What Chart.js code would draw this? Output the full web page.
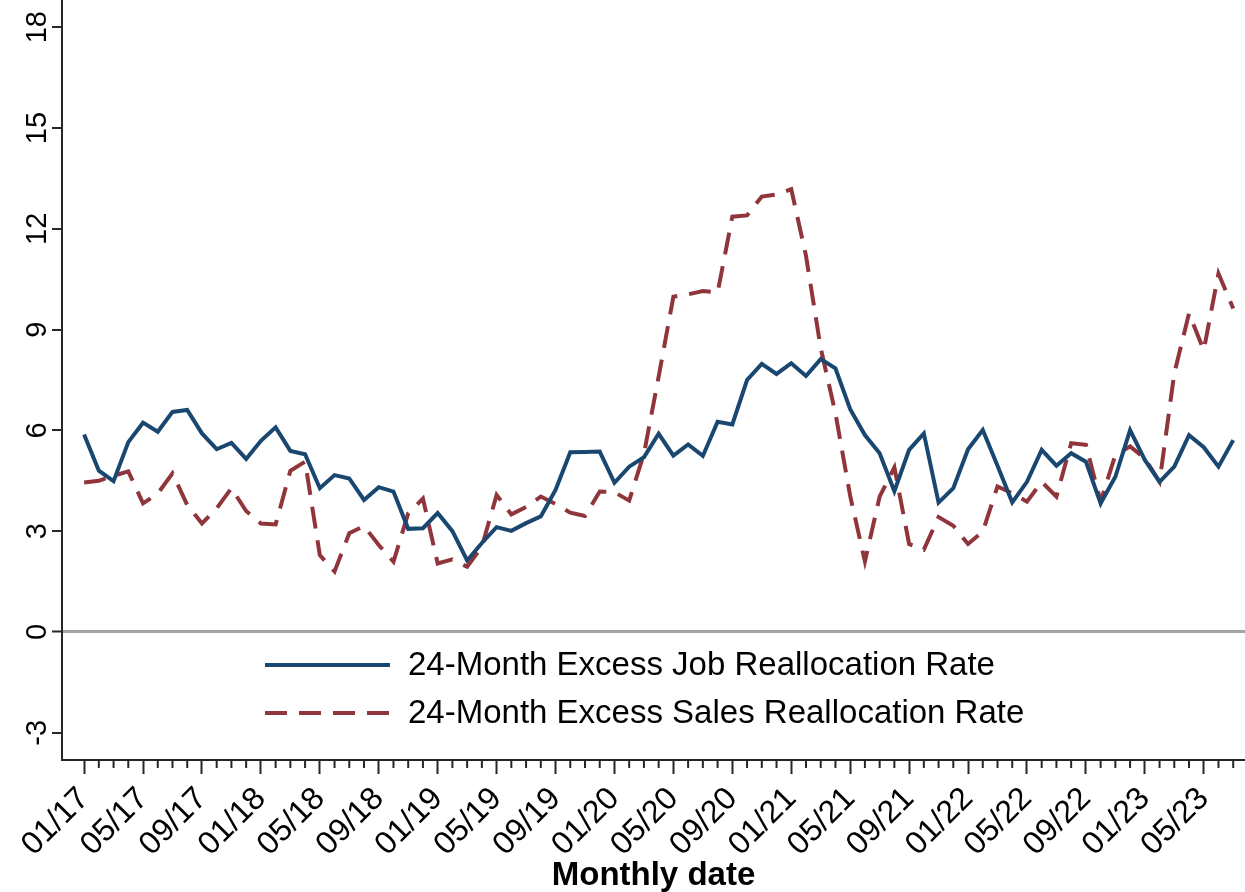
<!DOCTYPE html>
<html>
<head>
<meta charset="utf-8">
<script src="https://cdn.jsdelivr.net/npm/chart.js@4.4.0/dist/chart.umd.min.js"></script>
<style>
  html, body { margin: 0; padding: 0; background: #fff; }
  #wrap { width: 1245px; height: 892px; position: relative; }
</style>
</head>
<body>
<div id="wrap"><canvas id="chart"></canvas></div>
<script>
// x = months since 01/17, one point per month up to 07/23
const tickLabels = ['01/17', '05/17', '09/17', '01/18', '05/18', '09/18', '01/19', '05/19', '09/19', '01/20',
                    '05/20', '09/20', '01/21', '05/21', '09/21', '01/22', '05/22', '09/22', '01/23', '05/23'];
const tickMonths = [0, 4, 8, 12, 16, 20, 24, 28, 32, 36, 40, 44, 48, 52, 56, 60, 64, 68, 72, 76];
const yTicks = [-3, 0, 3, 6, 9, 12, 15, 18];

const jobRate = [
  5.88, 4.80, 4.49, 5.65, 6.23, 5.96, 6.55, 6.61, 5.91, 5.44, 5.63, 5.15,
  5.69, 6.09, 5.39, 5.29, 4.28, 4.67, 4.57, 3.93, 4.31, 4.18, 3.07, 3.09,
  3.54, 3.00, 2.13, 2.65, 3.12, 3.01, 3.24, 3.44, 4.23, 5.35, 5.36, 5.37,
  4.44, 4.92, 5.20, 5.90, 5.25, 5.58, 5.24, 6.26, 6.18, 7.50, 7.98, 7.68,
  8.00, 7.62, 8.12, 7.85, 6.63, 5.86, 5.32, 4.19, 5.42, 5.91, 3.85, 4.28,
  5.44, 6.01, 4.95, 3.86, 4.47, 5.42, 4.95, 5.32, 5.07, 3.83, 4.62, 6.01,
  5.12, 4.47, 4.92, 5.86, 5.50, 4.92, 5.71
];
const salesRate = [
  4.45, 4.50, 4.65, 4.78, 3.83, 4.12, 4.72, 3.78, 3.23, 3.68, 4.28, 3.60,
  3.23, 3.20, 4.80, 5.07, 2.29, 1.80, 2.94, 3.15, 2.59, 2.09, 3.53, 3.97,
  2.04, 2.16, 1.94, 2.54, 4.08, 3.50, 3.72, 4.03, 3.81, 3.55, 3.45, 4.18,
  4.16, 3.91, 5.30, 7.60, 9.98, 10.05, 10.15, 10.10, 12.36, 12.40, 12.96, 13.02,
  13.18, 11.20, 8.45, 6.51, 4.05, 2.10, 4.03, 4.90, 2.62, 2.45, 3.42, 3.16,
  2.62, 2.99, 4.33, 4.13, 3.88, 4.47, 4.03, 5.62, 5.57, 3.88, 5.27, 5.52,
  5.17, 4.47, 7.70, 9.48, 8.39, 10.67, 9.63
];

const FONT = 'Liberation Sans, Arial, sans-serif';
const AXIS = '#262626';

// short monthly ticks between the labelled ones
const minorTicks = {
  id: 'minorTicks',
  afterDraw(chart) {
    const sx = chart.scales.x;
    const ctx = chart.ctx;
    ctx.save();
    ctx.strokeStyle = AXIS;
    ctx.lineWidth = 2;
    for (let m = 0; m < jobRate.length; m++) {
      if (tickMonths.includes(m)) continue;
      const px = sx.getPixelForValue(m);
      ctx.beginPath();
      ctx.moveTo(px, sx.top);
      ctx.lineTo(px, sx.top + 8);
      ctx.stroke();
    }
    ctx.restore();
  }
};

// legend sits inside the plot, like the stata ring(0) legend
const insideLegend = {
  id: 'insideLegend',
  afterDatasetsDraw(chart) {
    const ctx = chart.ctx;
    ctx.save();
    chart.data.datasets.forEach(function(ds, i) {
      const y = 665 + i * 48;
      ctx.strokeStyle = ds.borderColor;
      ctx.lineWidth = ds.borderWidth;
      ctx.setLineDash(ds.borderDash || []);
      ctx.beginPath();
      ctx.moveTo(265, y);
      ctx.lineTo(390, y);
      ctx.stroke();
      ctx.setLineDash([]);
      ctx.fillStyle = '#000';
      ctx.font = '33px ' + FONT;
      ctx.textBaseline = 'middle';
      ctx.fillText(ds.label, 408, y + 1);
    });
    ctx.restore();
  }
};

new Chart(document.getElementById('chart'), {
  type: 'line',
  data: {
    datasets: [{
      label: '24-Month Excess Job Reallocation Rate',
      data: jobRate.map((v, i) => ({ x: i, y: v })),
      borderColor: '#1a476f',
      borderWidth: 4,
      pointRadius: 0,
      tension: 0,
      fill: false
    }, {
      label: '24-Month Excess Sales Reallocation Rate',
      data: salesRate.map((v, i) => ({ x: i, y: v })),
      borderColor: '#90353b',
      borderWidth: 4,
      borderDash: [22, 12],
      pointRadius: 0,
      tension: 0,
      fill: false
    }]
  },
  options: {
    responsive: true,
    maintainAspectRatio: false,
    animation: false,
    layout: { padding: 0 },
    plugins: {
      legend: { display: false },
      tooltip: { enabled: false }
    },
    scales: {
      x: {
        type: 'linear',
        min: -1.5,
        max: 78.8,
        border: { display: true, color: AXIS, width: 2 },
        grid: { drawOnChartArea: false, drawTicks: true, tickLength: 14, tickColor: AXIS, tickWidth: 2 },
        ticks: {
          autoSkip: false,
          minRotation: 45,
          maxRotation: 45,
          padding: 6,
          color: '#000',
          font: { family: FONT, size: 32 },
          callback: function(v) { return tickLabels[tickMonths.indexOf(v)]; }
        },
        afterBuildTicks: function(s) { s.ticks = tickMonths.map(v => ({ value: v })); },
        afterFit: function(s) { s.height = 132; s.paddingLeft = 0; s.paddingRight = 0; },
        title: {
          display: true,
          text: 'Monthly date',
          color: '#000',
          font: { family: FONT, size: 33, weight: 'bold', lineHeight: 1 },
          padding: { top: 0, bottom: 0 }
        }
      },
      y: {
        min: -3.81,
        max: 18.81,
        border: { display: true, color: AXIS, width: 2 },
        grid: {
          color: c => (c.tick && c.tick.value === 0) ? '#a3a3a3' : 'rgba(0,0,0,0)',
          lineWidth: c => (c.tick && c.tick.value === 0) ? 3 : 0,
          tickColor: AXIS,
          tickLength: 10,
          tickWidth: 2
        },
        ticks: {
          minRotation: 90,
          maxRotation: 90,
          crossAlign: 'center',
          padding: -2,
          color: '#000',
          font: { family: FONT, size: 29 }
        },
        afterBuildTicks: function(s) { s.ticks = yTicks.map(v => ({ value: v })); },
        afterFit: function(s) { s.width = 62; s.paddingTop = 0; s.paddingBottom = 0; }
      }
    }
  },
  plugins: [minorTicks, insideLegend]
});
</script>
</body>
</html>
